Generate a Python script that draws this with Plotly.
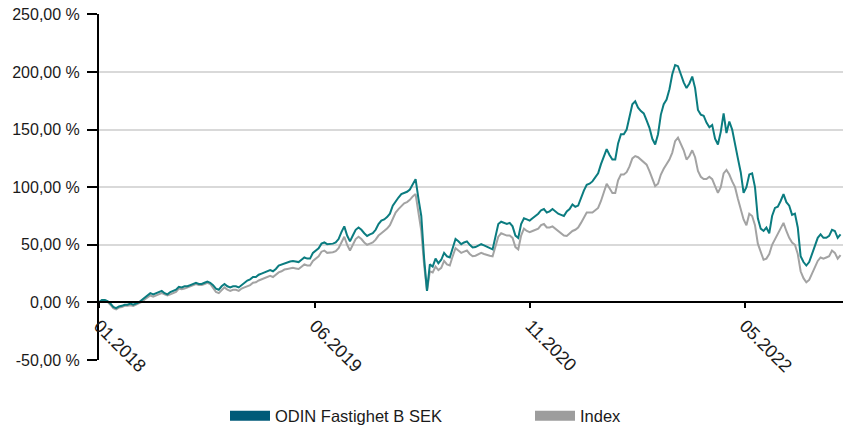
import pandas as pd
import plotly.graph_objects as go

# ---- data (weekly observations, cumulative return in %) ----
start_date = "2018-01-02"
n_weeks = 261

fund_values = [
    0, 2, 2, 1, -1, -4, -5, -3.5, -3, -2,
    -2, -1, -2, -1, 0, 2, 4, 6, 8, 7,
    8, 9, 10, 8, 7, 9, 10, 11, 13.5, 13,
    14, 14, 15, 16, 17, 16, 16, 17, 18, 17,
    15, 12, 11, 14, 16, 14, 13, 14, 14, 13,
    15, 17, 19, 20, 22, 22, 24, 25, 26, 27.5,
    28, 27, 29, 32, 33, 34, 35, 35.5, 36, 35.5,
    35, 37, 39, 38, 38, 43, 45, 47, 51, 52,
    50.5, 50.5, 51, 52, 55, 61, 66, 58, 53, 58,
    63, 65, 63, 60, 57.7, 59, 60, 63, 68, 71,
    72, 74, 77, 84, 88, 91, 94, 95, 96, 98,
    103, 107, 90, 75, 38, 10, 33, 31, 38, 34,
    37, 43, 40, 39, 47, 55, 53, 50.5, 52, 53,
    50, 47.6, 48, 49, 50.5, 49.5, 48.5, 47, 46, 57,
    68, 70, 69, 68, 69, 66, 58, 56, 68, 73,
    72, 71, 73, 75, 77, 80, 81, 78, 79, 81,
    79, 77, 76, 75, 79, 81, 85, 83, 84, 91,
    97, 102, 103, 105, 108, 112, 120, 127, 133, 128,
    124, 124, 138, 146, 146, 150, 162, 172, 174.5, 169,
    166, 164, 158, 151.5, 142, 137, 146, 163, 172, 176,
    185, 198, 206, 205, 198, 191, 186, 190, 196, 186,
    167, 163, 162, 156, 152, 154, 142, 137, 148, 164,
    147, 157, 150, 136, 125, 113, 95, 100, 111, 112,
    100, 73, 64, 62, 65, 60, 75, 82, 83, 88,
    94, 87, 84, 76, 77, 65, 40, 35, 32, 35,
    42, 48, 56, 59, 56, 56, 57.7, 63, 62, 56,
    59,
]

index_values = [
    0, 1.5, 2, 0.5, -2, -5, -6, -4.5, -4, -3,
    -3, -2.5, -3, -2, -1, 0.5, 2.5, 4, 6, 5,
    6, 7, 8, 7, 6, 7, 8, 9, 12, 11.5,
    12, 13, 14, 15, 16, 15, 15, 16, 17, 16,
    13, 9, 8, 11, 13, 11, 10, 11, 11, 10,
    12, 13, 14, 15, 17, 17.5, 19, 20, 21, 22,
    23, 22, 24, 26, 27, 28.5, 29, 29.5, 30, 29.5,
    29, 31, 33, 32, 32, 36, 38, 40, 44, 45,
    43, 43, 43.5, 44.5, 47, 52, 57, 50, 45, 50,
    55, 57, 55, 52, 50, 51, 52, 54.5, 58, 60,
    62, 64, 67, 72, 78, 81, 84, 86, 87, 89,
    92, 94, 78, 62, 32, 10, 27, 26, 31, 28,
    30, 36, 33, 32, 40, 47, 45, 43, 44, 45,
    42, 40, 40.5, 41.5, 43, 42, 41, 40.5, 40, 49,
    57, 60, 59, 58, 58, 56, 48, 46, 58, 64,
    62, 61, 62, 63, 64, 67, 68, 65, 65, 66,
    64, 62, 60, 58, 57.7, 60, 62, 63, 65, 69,
    74, 78, 78, 78, 80, 82, 88, 96, 103, 99,
    95, 95, 106, 111, 111, 113, 118, 125, 127, 126,
    124, 122, 119.5, 114, 107, 101, 103, 111, 116, 120,
    124, 130, 140, 143, 137, 132, 124, 127, 132, 126,
    114, 109, 107, 107, 109, 107, 101, 95, 100, 112,
    115, 111, 105, 100, 90, 82, 72, 67, 77, 75,
    67, 51, 44, 37, 38, 42, 50, 55, 59, 64,
    69, 62, 56, 52, 50, 42, 27, 21, 17.5, 19.5,
    25, 30, 36, 39, 38, 39, 40, 45, 43, 38,
    41,
]

series_names = ["ODIN Fastighet B SEK", "Index"]

x_tick_dates = ["2018-01-02", "2019-06-16", "2020-11-26", "2022-05-06"]
x_tick_labels = ["01.2018", "06.2019", "11.2020", "05.2022"]
x_range = ["2018-01-02", "2023-01-02"]

y_tick_values = [-50, 0, 50, 100, 150, 200, 250]
y_tick_labels = ["-50,00 %", "0,00 %", "50,00 %", "100,00 %", "150,00 %", "200,00 %", "250,00 %"]

# ---- styling ----
FUND_LINE = "#0b7c80"
INDEX_LINE = "#a3a3a3"
FUND_LEGEND = "#005a78"
INDEX_LEGEND = "#9d9d9d"
FONT = "Liberation Sans"
TEXT = "#1a1a1a"

dates = pd.date_range(start_date, periods=n_weeks, freq="7D")

fig = go.Figure()
fig.add_trace(go.Scatter(x=dates, y=index_values, mode="lines",
                         line=dict(color=INDEX_LINE, width=2), showlegend=False,
                         name=series_names[1]))
fig.add_trace(go.Scatter(x=dates, y=fund_values, mode="lines",
                         line=dict(color=FUND_LINE, width=2), showlegend=False,
                         name=series_names[0]))
# legend entries
fig.add_trace(go.Scatter(x=[None], y=[None], mode="lines", legend="legend",
                         line=dict(color=FUND_LEGEND, width=15), name=series_names[0]))
fig.add_trace(go.Scatter(x=[None], y=[None], mode="lines", legend="legend2",
                         line=dict(color=INDEX_LEGEND, width=15), name=series_names[1]))

legend_common = dict(orientation="h", y=-0.162, yanchor="middle", xanchor="left",
                     font=dict(size=16.5, color=TEXT), itemwidth=40,
                     bgcolor="rgba(0,0,0,0)")

fig.update_layout(
    width=847, height=430,
    margin=dict(l=99, r=4, t=14, b=70, autoexpand=False),
    paper_bgcolor="white", plot_bgcolor="white",
    font=dict(family=FONT, size=16, color=TEXT),
    legend=dict(x=(225 - 99) / 744, **legend_common),
    legend2=dict(x=(530 - 99) / 744, **legend_common),
    xaxis=dict(type="date", range=x_range, automargin=False,
               tickvals=x_tick_dates, ticktext=x_tick_labels, tickangle=45,
               showgrid=False, zeroline=False,
               showline=True, linecolor="black", linewidth=2,
               ticks="outside", ticklen=5, tickwidth=2, tickcolor="black",
               anchor="free", position=1/6,
               tickfont=dict(size=18, color=TEXT)),
    yaxis=dict(range=[-50, 250.3], tickvals=y_tick_values, ticktext=y_tick_labels,
               automargin=False, ticklabeloverflow="allow",
               showgrid=True, gridcolor="#d9d9d9", gridwidth=2,
               zeroline=False,
               showline=True, linecolor="black", linewidth=2,
               ticks="outside", ticklen=10, tickwidth=2, tickcolor="black",
               ticklabelstandoff=4,
               tickfont=dict(size=16, color=TEXT)),
)

# remove the browser's default 8px page margin so the figure fills the window
fig.write_html("out.html", config={"displayModeBar": False},
               post_script="document.body.style.margin='0';")
